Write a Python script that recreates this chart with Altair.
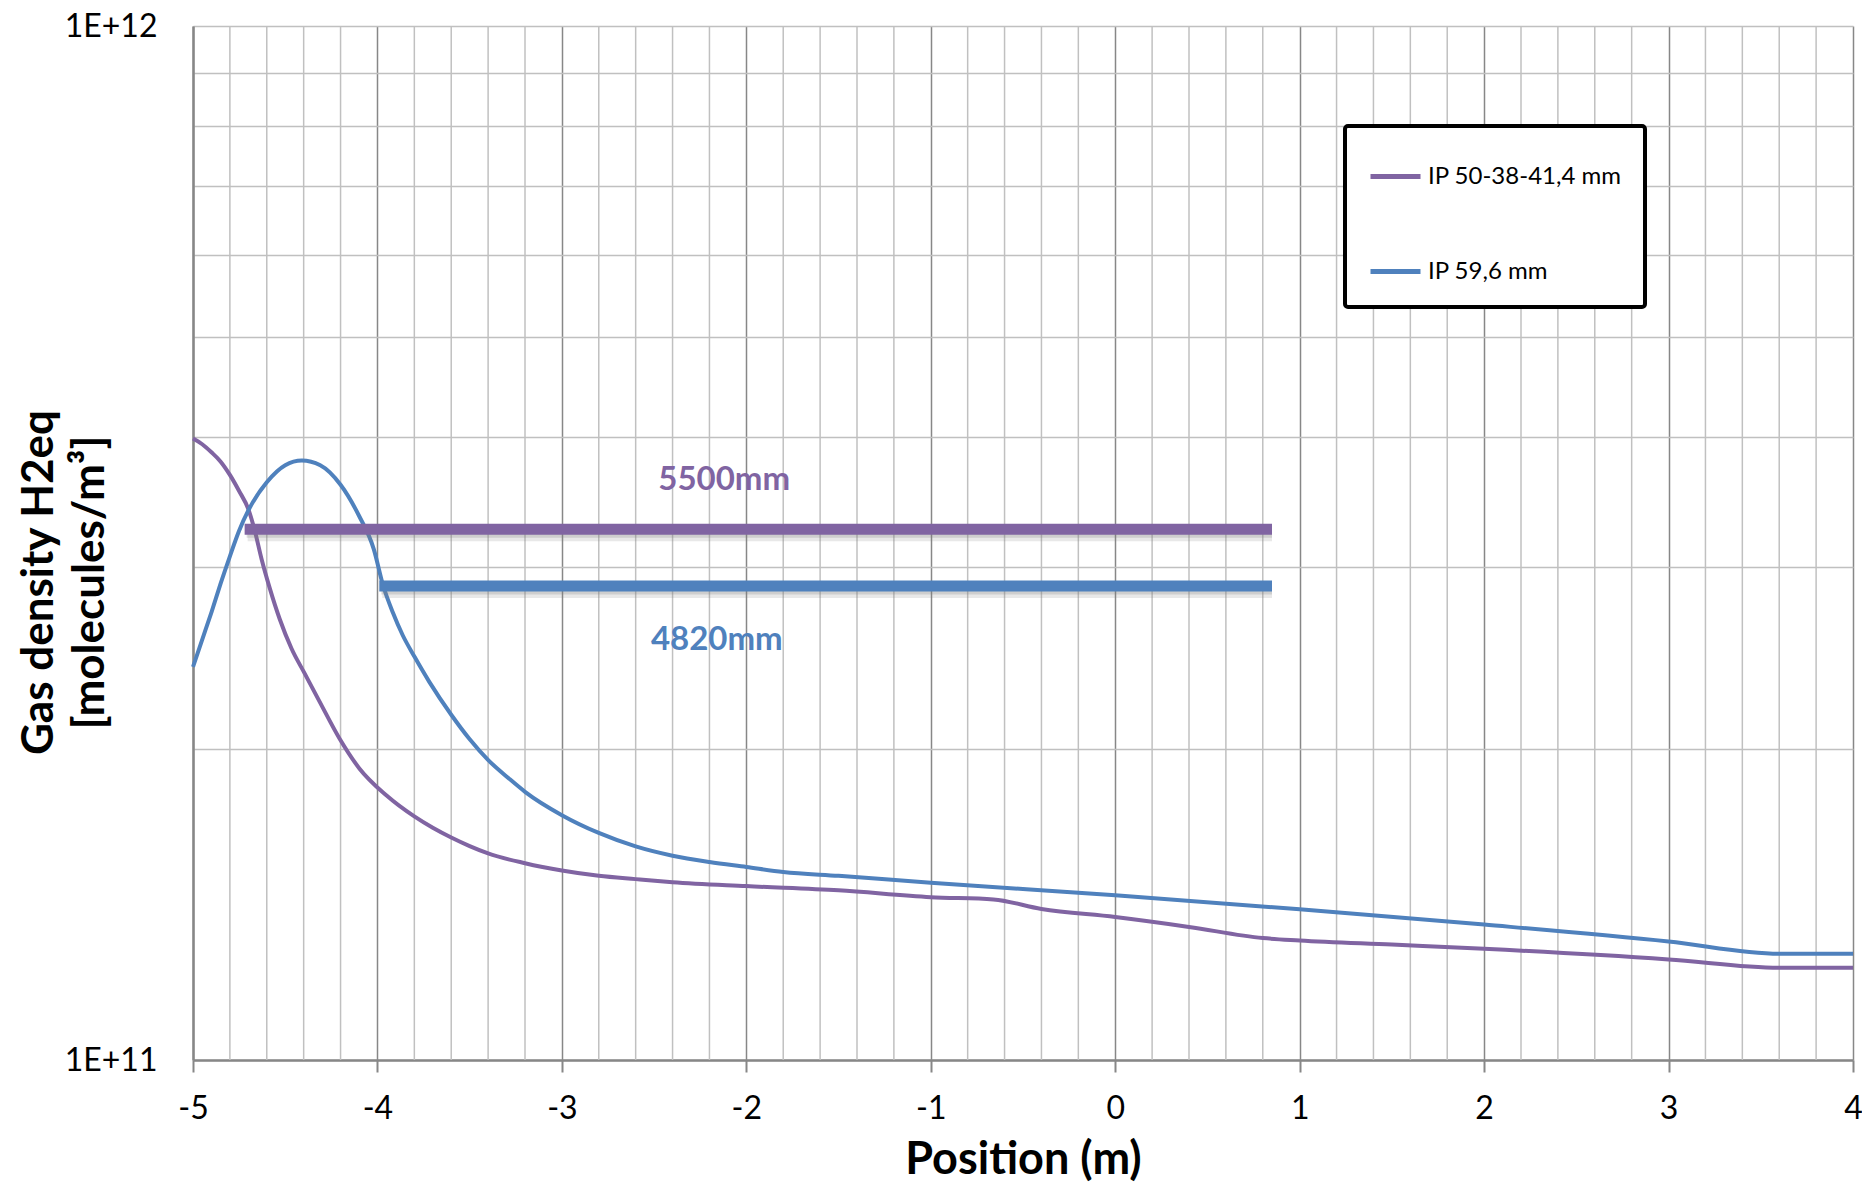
import altair as alt
import pandas as pd

# ---- data ----
series_names = ["IP 50-38-41,4 mm", "IP 59,6 mm"]
series_colors = ["#8064A2", "#4F81BD"]

purple_x = [-5.0, -4.95, -4.9, -4.85, -4.8, -4.75, -4.70, -4.665, -4.628, -4.584, -4.53, -4.466,
            -4.394, -4.313, -4.205, -4.097, -3.952, -3.8, -3.7, -3.6, -3.5, -3.4, -3.2,
            -3.0, -2.8, -2.6, -2.4, -2.0, -1.5, -1.0, -0.66, -0.4, 0.0, 0.4, 0.8, 1.0, 1.5,
            2.0, 3.0, 3.6, 4.0]
purple_y = [3.99, 3.94, 3.87, 3.79, 3.68, 3.55, 3.41, 3.25, 3.05, 2.86, 2.67, 2.50,
            2.364, 2.22, 2.045, 1.913, 1.803, 1.72, 1.677, 1.641, 1.610, 1.584, 1.550,
            1.525, 1.507, 1.496, 1.486, 1.473, 1.459, 1.437, 1.43, 1.40, 1.375, 1.345, 1.312, 1.305, 1.293,
            1.281, 1.251, 1.228, 1.228]

blue_x = [-5.0, -4.95, -4.9, -4.85, -4.8, -4.75, -4.7, -4.6, -4.5, -4.41, -4.31, -4.2, -4.1,
          -4.02, -3.97, -3.917, -3.863, -3.798, -3.718, -3.598, -3.502, -3.398, -3.286, -3.198,
          -3.0, -2.8, -2.6, -2.4, -2.2, -2.0, -1.8, -1.5, -1.0, 0.0, 1.0, 2.0, 3.0,
          3.6, 4.0]
blue_y = [2.40, 2.55, 2.71, 2.89, 3.07, 3.25, 3.40, 3.62, 3.76, 3.80, 3.76, 3.60, 3.36,
          3.12, 2.88, 2.71, 2.575, 2.453, 2.32, 2.155, 2.045, 1.949, 1.871, 1.816,
          1.725, 1.658, 1.609, 1.576, 1.554, 1.537, 1.52, 1.507, 1.484, 1.443, 1.399, 1.352, 1.302,
          1.267, 1.267]

bar_labels = ["5500mm", "4820mm"]
bar_start = [-4.72, -3.99]
bar_end = [0.85, 0.85]
bar_level = [3.26e11, 2.873e11]
label_x = [-2.12, -2.16]
label_y = [3.64e11, 2.55e11]

x_major_values = [-5, -4, -3, -2, -1, 0, 1, 2, 3, 4]
x_minor_values = [-4.8, -4.6, -4.4, -4.2, -3.8, -3.6, -3.4, -3.2, -2.8, -2.6, -2.4, -2.2,
                  -1.8, -1.6, -1.4, -1.2, -0.8, -0.6, -0.4, -0.2, 0.2, 0.4, 0.6, 0.8,
                  1.2, 1.4, 1.6, 1.8, 2.2, 2.4, 2.6, 2.8, 3.2, 3.4, 3.6, 3.8]
y_tick_values = [1e11, 2e11, 3e11, 4e11, 5e11, 6e11, 7e11, 8e11, 9e11, 1e12]

FONT = "Lato"
MAJOR = "#878787"
MINOR = "#C0C0C0"

rows = []
for xv, yv in zip(purple_x, purple_y):
    rows.append({"x": xv, "y": yv * 1e11, "series": series_names[0]})
for xv, yv in zip(blue_x, blue_y):
    rows.append({"x": xv, "y": yv * 1e11, "series": series_names[1]})
curves = pd.DataFrame(rows)

x_scale = alt.Scale(domain=[-5, 4], nice=False, zero=False)
y_scale = alt.Scale(type="log", domain=[1e11, 1e12], nice=False)

x_axis = alt.Axis(
    values=x_major_values,
    labelExpr="'' + round(datum.value)",
    labelOverlap=False,
    grid=True, gridColor=MAJOR, gridWidth=1.5,
    tickColor=MAJOR, tickSize=12, tickWidth=2,
    domainColor=MAJOR, domainWidth=2.5,
    labelFont=FONT, labelFontSize=32, labelColor="black", labelPadding=21,
    labelFlush=False,
    title="Position (m)", titleFont=FONT, titleFontSize=45, titleFontWeight="bold",
    titleColor="black", titlePadding=13,
)
y_axis = alt.Axis(
    values=y_tick_values,
    labelExpr="abs(datum.value - 1e11) < 1e6 ? '1E+11' : (abs(datum.value - 1e12) < 1e6 ? '1E+12' : '')",
    labelOverlap=False,
    grid=True, gridColor=MINOR, gridWidth=1.5,
    ticks=False,
    domainColor=MAJOR, domainWidth=2.5,
    labelFont=FONT, labelFontSize=32, labelColor="black", labelPadding=36,
    title=["Gas density H2eq", "[molecules/m³]"],
    titleFont=FONT, titleFontSize=44, titleFontWeight="bold", titleColor="black",
    titleLineHeight=51, titleAngle=270, titleAlign="center", titleBaseline="middle",
    titleX=-154, titleY=556,
)

minor_grid = alt.Chart(pd.DataFrame({"gx": x_minor_values})).mark_rule(
    color=MINOR, strokeWidth=1.5
).encode(x=alt.X("gx:Q", scale=x_scale, axis=x_axis))

lines = alt.Chart(curves).mark_line(strokeWidth=4, interpolate="monotone").encode(
    x=alt.X("x:Q", scale=x_scale, axis=x_axis),
    y=alt.Y("y:Q", scale=y_scale, axis=y_axis),
    color=alt.Color(
        "series:N",
        scale=alt.Scale(domain=series_names, range=series_colors),
        sort=series_names,
        legend=alt.Legend(
            orient="none", legendX=1152, legendY=100, title=None,
            strokeColor="black", fillColor="white", cornerRadius=3,
            padding=23, symbolType="stroke", symbolSize=2500, symbolStrokeWidth=5,
            rowPadding=55, labelFont=FONT, labelFontSize=24, labelOffset=5,
            labelColor="black", labelLimit=400,
        ),
    ),
)

layers = [minor_grid, lines]
for i in range(len(bar_labels)):
    bdf = pd.DataFrame({"start": [bar_start[i]], "end": [bar_end[i]], "level": [bar_level[i]],
                        "lx": [label_x[i]], "ly": [label_y[i]], "label": [bar_labels[i]]})
    base = alt.Chart(bdf)
    shadow = base.mark_rule(strokeWidth=14, color="#7F7F7F", opacity=0.18, xOffset=3, yOffset=5).encode(
        x="start:Q", x2="end:Q", y="level:Q")
    shadow2 = base.mark_rule(strokeWidth=11, color="#7F7F7F", opacity=0.25, xOffset=2, yOffset=3).encode(
        x="start:Q", x2="end:Q", y="level:Q")
    bar = base.mark_rule(strokeWidth=11, color=series_colors[i]).encode(
        x="start:Q", x2="end:Q", y="level:Q")
    txt = base.mark_text(font=FONT, fontSize=33, fontWeight="bold", color=series_colors[i]).encode(
        x="lx:Q", y="ly:Q", text="label:N")
    layers += [shadow, shadow2, bar, txt]

chart = alt.layer(*layers).properties(
    width=1660, height=1034,
    autosize=alt.AutoSizeParams(type="none"),
    padding={"left": 185, "top": 18, "right": 9, "bottom": 124},
    background="white",
).configure_view(stroke=None).configure_legend(strokeWidth=4)

chart.save("out.html", embed_options={"renderer": "svg", "actions": False})
